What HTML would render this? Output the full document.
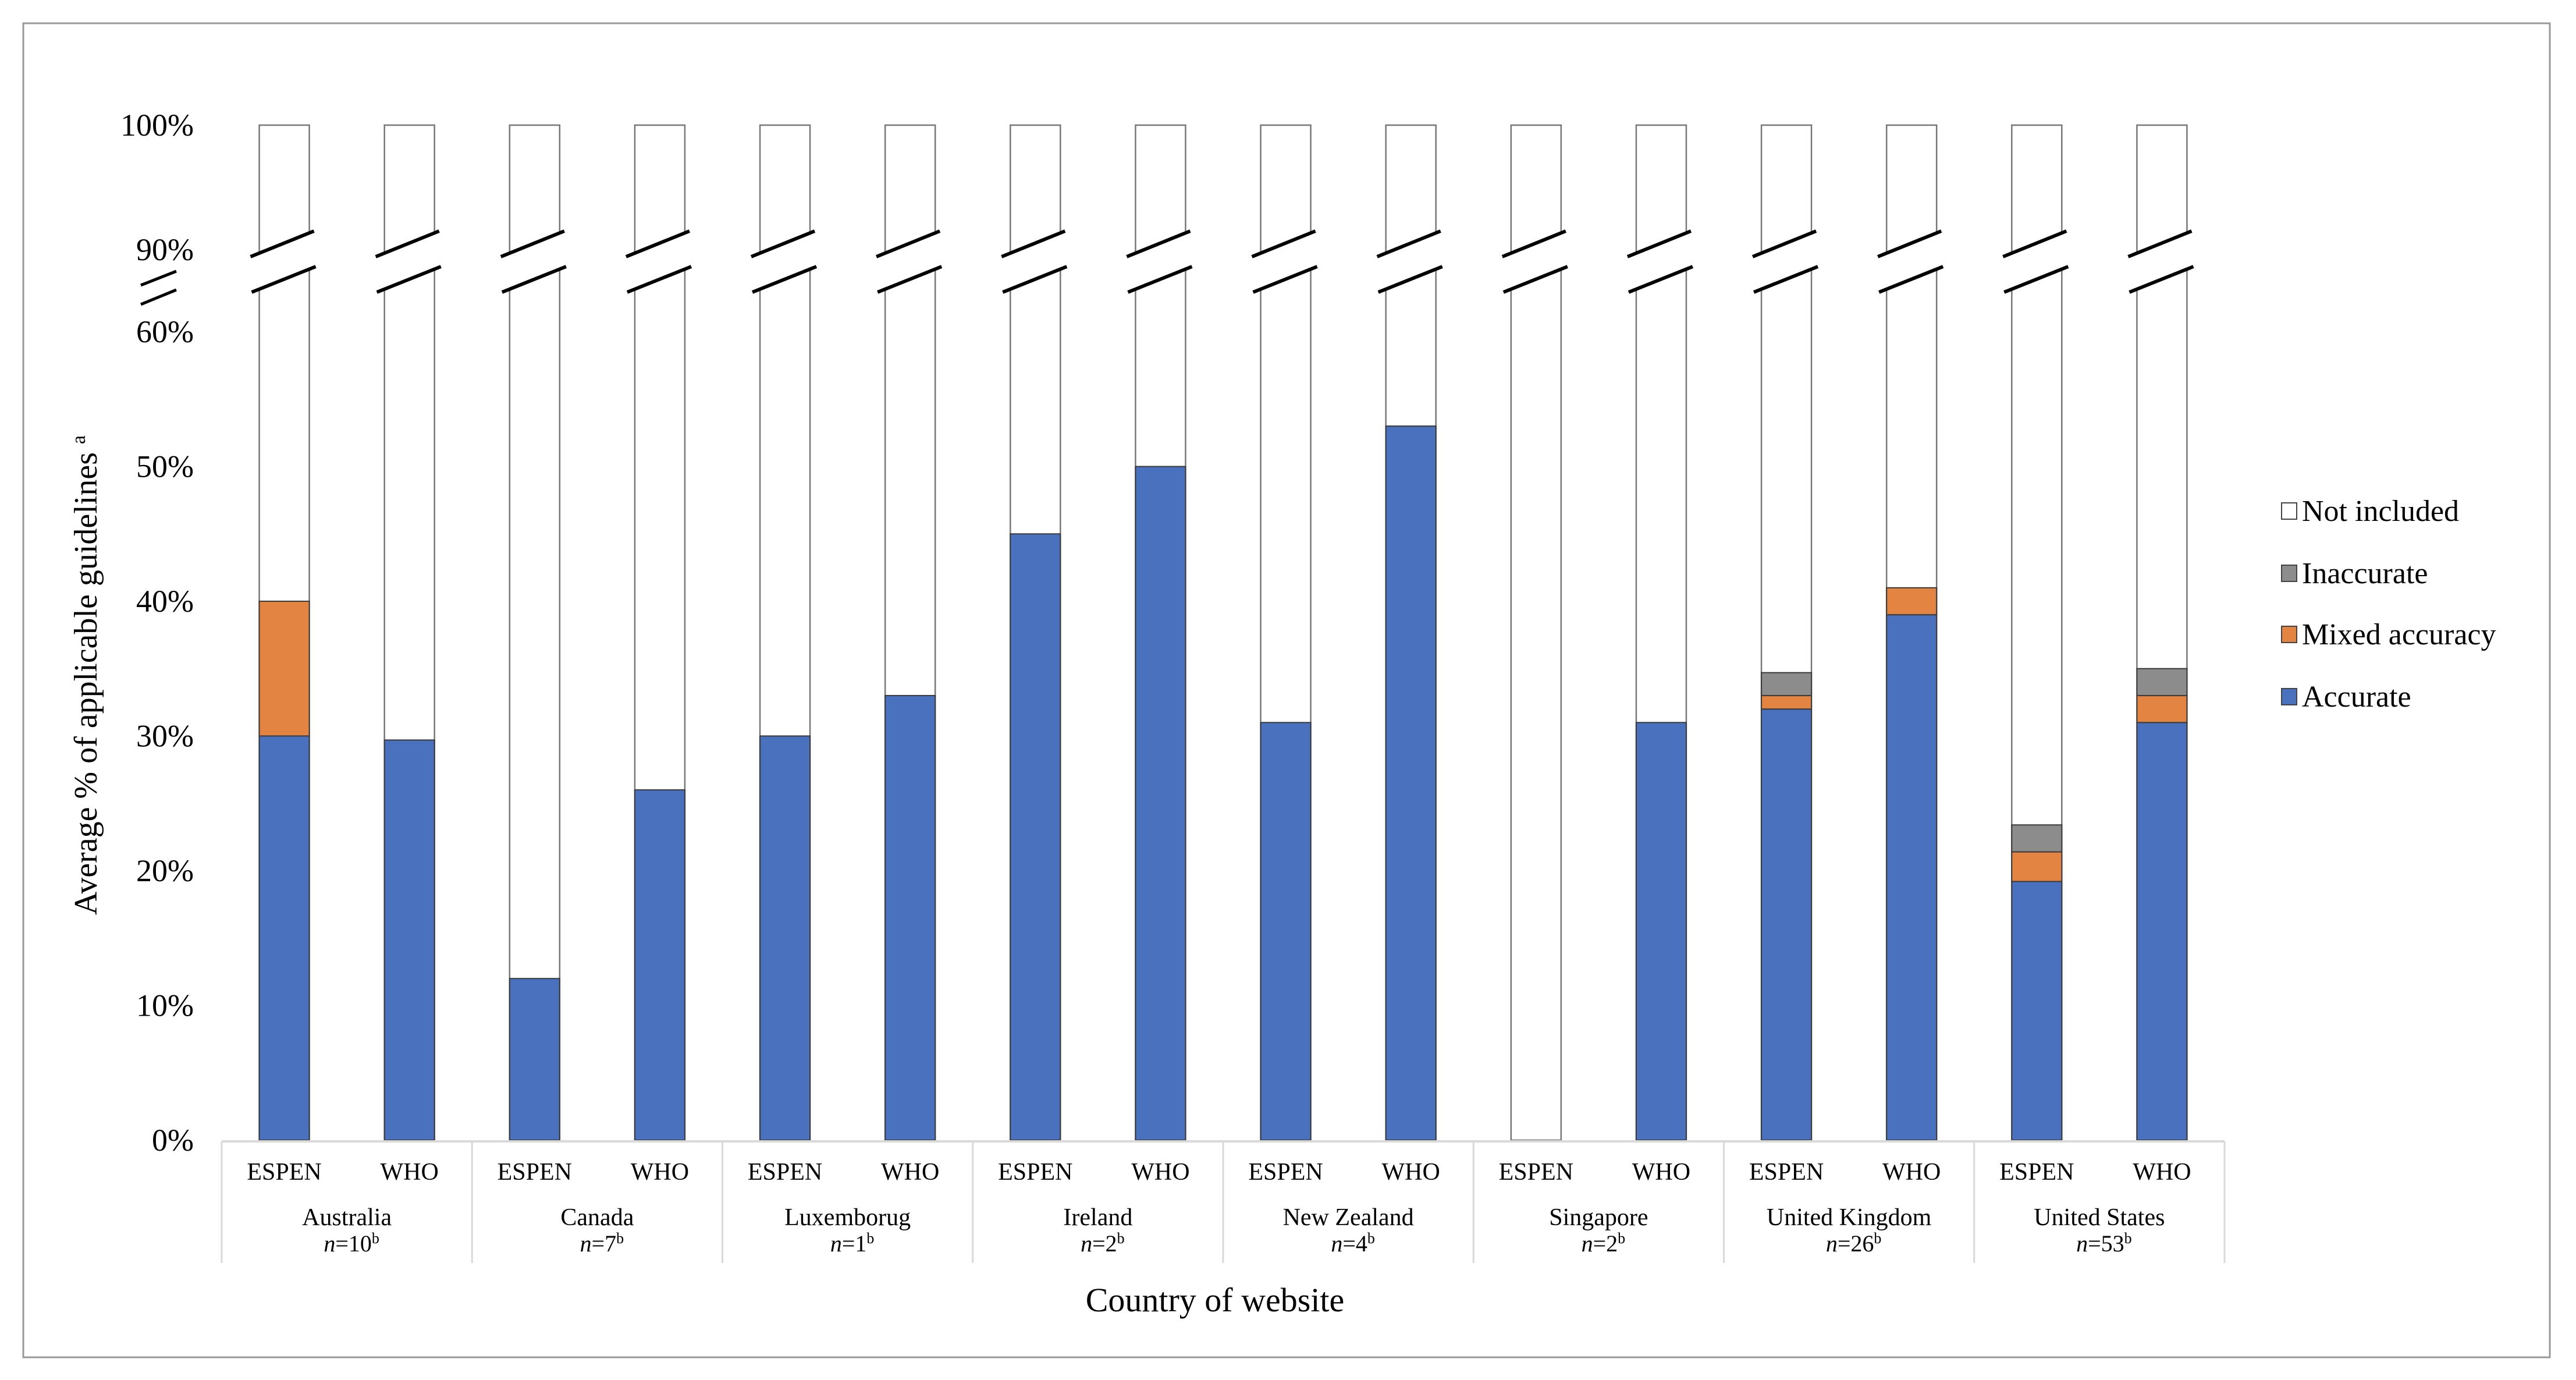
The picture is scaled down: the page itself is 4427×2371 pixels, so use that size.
<!DOCTYPE html>
<html><head><meta charset="utf-8"><style>
html,body{margin:0;padding:0;background:#fff}
svg{display:block}
text{font-family:"Liberation Serif",serif;fill:#000}
</style></head><body>
<svg id="chart" width="4427" height="2371" viewBox="0 0 4427 2371" xmlns="http://www.w3.org/2000/svg">
<rect x="40" y="40" width="4342" height="2292" fill="#fff" stroke="#999" stroke-width="3"/>
<g id="bars"></g>
<g id="axis"></g>
</svg>
<script>
const countries=["Australia","Canada","Luxemborug","Ireland","New Zealand","Singapore","United Kingdom","United States"];
const nCounts=["10","7","1","2","4","2","26","53"];
const guides=["ESPEN","WHO"];
const accurate=[30,29.7,12,26,30,33,45,50,31,53,0,31,32,39,19.2,31];
const mixed=[10,0,0,0,0,0,0,0,0,0,0,0,1,2,2.2,2];
const inaccurate=[0,0,0,0,0,0,0,0,0,0,0,0,1.7,0,2,2];
const lowerTicks=[0,10,20,30,40,50,60];
const upperTicks=[90,100];
const legendLabels=["Not included","Inaccurate","Mixed accuracy","Accurate"];
const legendColors=["#ffffff","#8c8c8c","#e38442","#4a71bd"];

const NS="http://www.w3.org/2000/svg";
const svg=document.getElementById('chart');
const gb=document.getElementById('bars');
const ga=document.getElementById('axis');
function mk(tag,attrs,parent,txt){const e=document.createElementNS(NS,tag);for(const k in attrs)e.setAttribute(k,attrs[k]);if(txt!==undefined)e.textContent=txt;(parent||svg).appendChild(e);return e;}
const x0=381,x1=3823,gw=(x1-x0)/8,bw=86;
function yL(v){return 1959-v*23.15;}
function yU(v){return 215+(100-v)*21.4;}
function cx(i){const g=Math.floor(i/2),k=i%2;return x0+g*gw+(k===0?0.25:0.75)*gw;}

// baseline
const bl=mk('line',{x1:x0,y1:1961,x2:x1,y2:1961,stroke:'#d9d9d9','stroke-width':4},ga);


for(let i=0;i<accurate.length;i++){
  const c=cx(i),l=c-bw/2,r=c+bw/2;
  // upper white section
  const up=mk('polygon',{points:`${l},${yU(100)} ${r},${yU(100)} ${r},401 ${l},435`,fill:'#fff',stroke:'#777','stroke-width':2.5},gb);
  
  // lower white section
  const lo=mk('polygon',{points:`${l},497 ${r},462 ${r},${yL(0)} ${l},${yL(0)}`,fill:'#fff',stroke:'#777','stroke-width':2.5},gb);
  
  let base=0;
  const segs=[[accurate[i],'#4a71bd','bar-accurate'],[mixed[i],'#e38442','bar-mixed'],[inaccurate[i],'#8c8c8c','bar-inaccurate']];
  for(const [v,col,nm] of segs){
    if(v>0){
      const rr=mk('rect',{x:l,y:yL(base+v),width:bw,height:yL(base)-yL(base+v),fill:col,stroke:'#3a3a3a','stroke-width':2},gb);
      
    }
    base+=v;
  }
  const s1=mk('line',{x1:c-58,y1:441,x2:c+51,y2:397,stroke:'#000','stroke-width':6},gb);
  
  const s2=mk('line',{x1:c-56,y1:502,x2:c+54,y2:458,stroke:'#000','stroke-width':6},gb);
  
  const gl=mk('text',{x:c,y:2027,'font-size':42,'text-anchor':'middle'},ga,guides[i%2]);
  
}
for(let g=0;g<=8;g++){
  const sx=x0+g*gw;
  const sl=mk('line',{x1:sx,y1:1961,x2:sx,y2:2170,stroke:'#d9d9d9','stroke-width':3},ga);
  
}
for(let g=0;g<8;g++){
  const mx=x0+g*gw+gw/2;
  const ct=mk('text',{x:mx,y:2105,'font-size':42,'text-anchor':'middle'},ga,countries[g]);
  
  const nt=mk('text',{x:mx+8,y:2150,'font-size':40,'text-anchor':'middle'},ga);
  
  const ti=mk('tspan',{'font-style':'italic'},nt,'n');
  mk('tspan',{},nt,'='+nCounts[g]);
  mk('tspan',{'font-size':26,dy:-14},nt,'b');
}
for(const t of lowerTicks){
  const tl=mk('text',{x:333,y:yL(t)+18,'font-size':54,'text-anchor':'end'},ga,t+'%');
  
}
for(const t of upperTicks){
  const tl=mk('text',{x:333,y:yU(t)+18,'font-size':54,'text-anchor':'end'},ga,t+'%');
  
}
const yb1=mk('line',{x1:242,y1:490,x2:303,y2:466,stroke:'#000','stroke-width':5},ga);

const yb2=mk('line',{x1:242,y1:523,x2:303,y2:498,stroke:'#000','stroke-width':5},ga);


const yt=mk('text',{x:0,y:0,'font-size':56,'text-anchor':'middle',transform:'translate(166,1160) rotate(-90)'},ga);

mk('tspan',{},yt,'Average % of applicable guidelines ');
mk('tspan',{'font-size':34,dy:-20},yt,'a');
const xt=mk('text',{x:2088,y:2253,'font-size':58,'text-anchor':'middle'},ga,'Country of website');


const ly=[878,985,1090,1197];
for(let i=0;i<legendLabels.length;i++){
  const g=mk('g',{},ga);
  
  mk('rect',{x:3921,y:ly[i]-14,width:26,height:28,fill:legendColors[i],stroke:'#444','stroke-width':2},g);
  mk('text',{x:3956,y:ly[i]+17,'font-size':52},g,legendLabels[i]);
}
</script>
</body></html>
